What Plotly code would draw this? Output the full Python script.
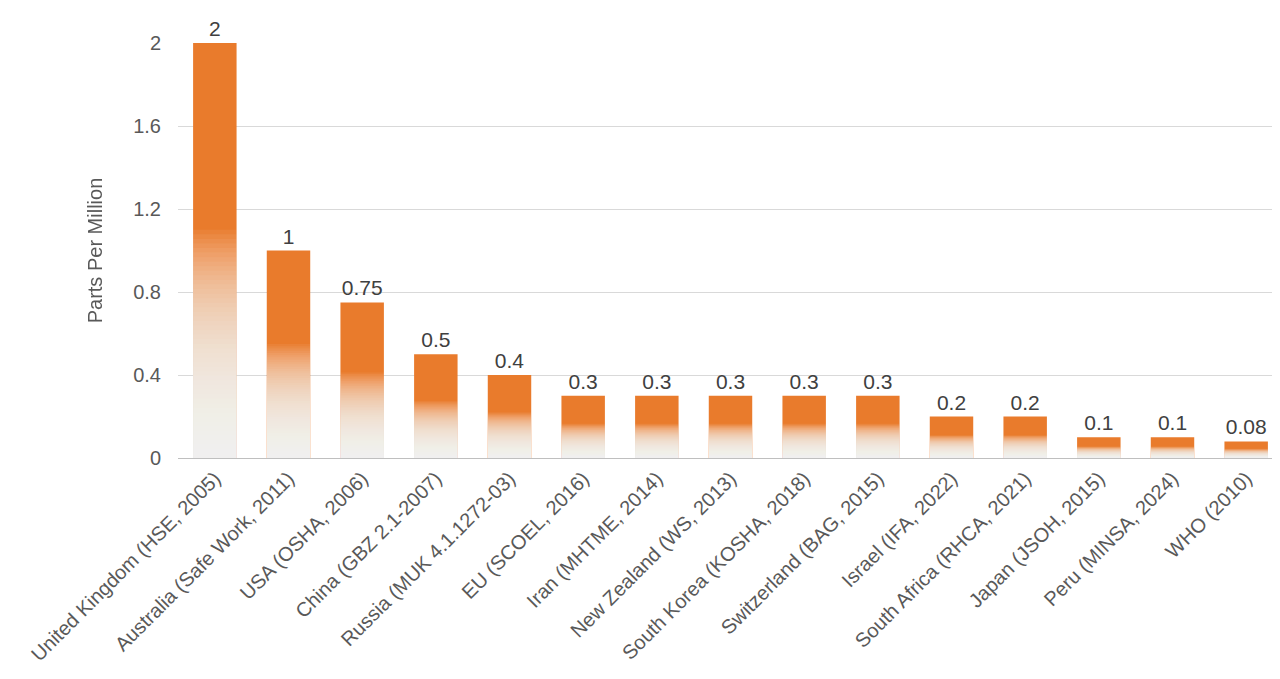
import plotly.graph_objects as go

labels = ["United Kingdom (HSE, 2005)", "Australia (Safe Work, 2011)", "USA (OSHA, 2006)",
          "China (GBZ 2.1-2007)", "Russia (MUK 4.1.1272-03)", "EU (SCOEL, 2016)",
          "Iran (MHTME, 2014)", "New Zealand (WS, 2013)", "South Korea (KOSHA, 2018)",
          "Switzerland (BAG, 2015)", "Israel (IFA, 2022)", "South Africa (RHCA, 2021)",
          "Japan (JSOH, 2015)", "Peru (MINSA, 2024)", "WHO (2010)"]
values = [2, 1, 0.75, 0.5, 0.4, 0.3, 0.3, 0.3, 0.3, 0.3, 0.2, 0.2, 0.1, 0.1, 0.08]
texts = ["2", "1", "0.75", "0.5", "0.4", "0.3", "0.3", "0.3", "0.3", "0.3",
         "0.2", "0.2", "0.1", "0.1", "0.08"]

fig = go.Figure()
fig.add_trace(go.Bar(x=labels, y=values, text=texts, textposition="outside",
                     textfont=dict(size=21, color="#404040"), cliponaxis=False,
                     marker=dict(color="#E97B2C", line=dict(width=0)), hoverinfo="skip"))

# white fade from the bottom of each bar
steps = 50
for i in range(1, steps + 1):
    frac = 0.55 * i / steps
    fig.add_trace(go.Bar(x=labels, y=[v * frac for v in values],
                         marker=dict(color="white", line=dict(width=0)),
                         opacity=0.06, hoverinfo="skip", showlegend=False))

fig.update_layout(
    barmode="overlay", bargap=0.41, showlegend=False,
    width=1280, height=679, plot_bgcolor="white", paper_bgcolor="white",
    margin=dict(l=170, r=5, t=35, b=229, autoexpand=False),
    font=dict(family="Liberation Sans, Arial", color="#595959", size=20),
    yaxis=dict(range=[0, 2], tickvals=[0, 0.4, 0.8, 1.2, 1.6, 2],
               ticktext=["0", "0.4", "0.8", "1.2", "1.6", "2"],
               gridcolor="#D9D9D9", zeroline=False, ticks="outside", ticklen=12,
               tickcolor="white", automargin=False,
               title=dict(text="Parts Per Million", font=dict(size=20), standoff=25),
               tickfont=dict(size=20)),
    xaxis=dict(tickangle=-45, showline=True, linecolor="#BFBFBF", automargin=False,
               tickfont=dict(size=20)),
)
fig.write_html("out.html")
